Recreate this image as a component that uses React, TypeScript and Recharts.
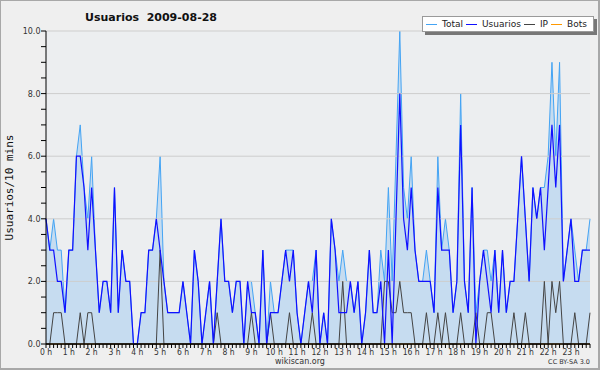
import React from 'react';
import { ComposedChart, Area, Line, XAxis, YAxis, CartesianGrid, ReferenceLine, Legend } from 'recharts';

const total = [
  4, 3, 4, 3, 3, 1, 3, 3, 6, 7,
  5, 4, 6, 3, 1, 2, 2, 1, 5, 1,
  3, 2, 2, 0, 0, 1, 1, 3, 3, 4,
  6, 2, 1, 1, 1, 1, 2, 1, 0, 3,
  2, 0, 1, 2, 0, 2, 4, 2, 2, 1,
  2, 2, 0, 2, 2, 1, 0, 3, 0, 2,
  1, 1, 2, 3, 3, 3, 1, 0, 1, 2,
  2, 3, 0, 1, 0, 4, 3, 2, 3, 2,
  2, 1, 2, 0, 1, 3, 1, 1, 3, 2,
  5, 2, 6, 10, 5, 4, 6, 3, 2, 2,
  3, 2, 1, 6, 3, 4, 3, 1, 2, 8,
  2, 1, 5, 1, 2, 3, 3, 2, 3, 1,
  3, 1, 2, 2, 4, 6, 4, 2, 5, 4,
  5, 5, 6, 9, 6, 9, 2, 3, 4, 3,
  2, 3, 3, 4,
];

const usuarios = [
  4, 3, 3, 2, 2, 1, 3, 3, 6, 6,
  5, 3, 5, 3, 1, 2, 2, 1, 5, 1,
  3, 2, 2, 0, 0, 1, 1, 3, 3, 4,
  3, 2, 1, 1, 1, 1, 2, 1, 0, 3,
  2, 0, 1, 2, 0, 2, 4, 2, 2, 1,
  2, 2, 0, 2, 1, 1, 0, 3, 0, 1,
  1, 1, 2, 3, 2, 3, 1, 0, 1, 2,
  1, 3, 0, 1, 0, 4, 3, 1, 1, 1,
  2, 1, 2, 0, 1, 3, 1, 1, 2, 0,
  3, 0, 4, 8, 4, 3, 5, 3, 2, 2,
  2, 2, 1, 5, 3, 3, 3, 1, 2, 7,
  2, 1, 5, 0, 2, 3, 2, 1, 3, 1,
  3, 1, 2, 2, 4, 6, 4, 2, 5, 4,
  5, 3, 5, 7, 5, 7, 2, 3, 4, 2,
  2, 3, 3, 3,
];

const ip = [
  0, 0, 1, 1, 1, 0, 0, 0, 0, 1,
  0, 1, 1, 0, 0, 0, 0, 0, 0, 0,
  0, 0, 0, 0, 0, 0, 0, 0, 0, 0,
  3, 0, 0, 0, 0, 0, 0, 0, 0, 0,
  0, 0, 0, 0, 0, 1, 0, 0, 0, 0,
  0, 0, 0, 0, 1, 0, 0, 0, 0, 1,
  0, 0, 0, 0, 1, 0, 0, 0, 0, 0,
  1, 0, 0, 0, 0, 0, 0, 0, 2, 0,
  0, 0, 0, 0, 0, 0, 0, 0, 0, 2,
  2, 1, 1, 2, 1, 1, 1, 0, 0, 0,
  1, 0, 0, 1, 0, 1, 0, 0, 0, 1,
  0, 0, 0, 1, 0, 0, 1, 1, 0, 0,
  0, 0, 0, 1, 0, 0, 1, 0, 0, 0,
  0, 2, 0, 2, 1, 2, 0, 0, 0, 1,
  0, 0, 0, 1,
];

const bots = [
  0, 0, 0, 0, 0, 0, 0, 0, 0, 0,
  0, 0, 0, 0, 0, 0, 0, 0, 0, 0,
  0, 0, 0, 0, 0, 0, 0, 0, 0, 0,
  0, 0, 0, 0, 0, 0, 0, 0, 0, 0,
  0, 0, 0, 0, 0, 0, 0, 0, 0, 0,
  0, 0, 0, 0, 0, 0, 0, 0, 0, 0,
  0, 0, 0, 0, 0, 0, 0, 0, 0, 0,
  0, 0, 0, 0, 0, 0, 0, 0, 0, 0,
  0, 0, 0, 0, 0, 0, 0, 0, 0, 0,
  0, 0, 0, 0, 0, 0, 0, 0, 0, 0,
  0, 0, 0, 0, 0, 0, 0, 0, 0, 0,
  0, 0, 0, 0, 0, 0, 0, 0, 0, 0,
  0, 0, 0, 0, 0, 0, 0, 0, 0, 0,
  0, 0, 0, 0, 0, 0, 0, 0, 0, 0,
  0, 0, 0, 0,
];

const hourLabels = [
  '0 h', '1 h', '2 h', '3 h', '4 h', '5 h', '6 h', '7 h', '8 h', '9 h', '10 h', '11 h',
  '12 h', '13 h', '14 h', '15 h', '16 h', '17 h', '18 h', '19 h', '20 h', '21 h', '22 h', '23 h',
];

const yTicks = [0, 0.5, 1, 1.5, 2, 2.5, 3, 3.5, 4, 4.5, 5, 5.5, 6, 6.5, 7, 7.5, 8, 8.5, 9, 9.5, 10];
const gridValues = [2, 4, 6, 8, 10];

const title = 'Usuarios  2009-08-28';
const yLabel = 'Usuarios/10 mins';
const seriesNames = ['Total', 'Usuarios', 'IP', 'Bots'];

const COLORS: Record<string, string> = {
  Total: '#44a4f4',
  Usuarios: '#1010ff',
  IP: '#444444',
  Bots: '#ff9900',
};

const data = total.map((t, i) => ({
  i,
  total: t,
  usuarios: usuarios[i],
  ip: ip[i],
  bots: bots[i],
}));
const xTicks = data.map((d) => d.i);

const W = 600;
const H = 370;
const M = { top: 31, right: 10, bottom: 25, left: 45 };
const PLOT_BOTTOM = 344;
const PLOT_LEFT = 46;
const SANS = "'DejaVu Sans Condensed', 'DejaVu Sans', sans-serif";

const XTick = (props: any) => {
  const { x, payload } = props;
  const v = payload.value as number;
  return (
    <g>
      <line x1={x} y1={PLOT_BOTTOM} x2={x} y2={PLOT_BOTTOM + 4} stroke="#000" strokeWidth={1} />
      {v % 6 === 0 ? (
        <text x={x} y={PLOT_BOTTOM + 11} textAnchor="middle" fontSize={8.5} fill="#333" fontFamily={SANS}>
          {hourLabels[v / 6]}
        </text>
      ) : null}
    </g>
  );
};

const YTick = (props: any) => {
  const { y, payload } = props;
  const v = payload.value as number;
  return (
    <g>
      <line x1={PLOT_LEFT - 5} y1={y} x2={PLOT_LEFT} y2={y} stroke="#000" strokeWidth={1} />
      {v % 2 === 0 ? (
        <text x={PLOT_LEFT - 5.5} y={y + 3} textAnchor="end" fontSize={8} fill="#333" fontFamily="'DejaVu Sans', sans-serif">
          {v.toFixed(1)}
        </text>
      ) : null}
    </g>
  );
};

const LegendBox = () => (
  <div
    style={{
      position: 'relative',
      boxSizing: 'border-box',
      width: 172,
      height: 16,
      background: '#fff',
      border: '1px solid #9a9a9a',
      boxShadow: '3px 3px 0 #777',
      display: 'flex',
      alignItems: 'center',
      fontFamily: "'DejaVu Sans', sans-serif",
      fontSize: 9,
      color: '#222',
      whiteSpace: 'nowrap',
    }}
  >
    {seriesNames.map((n) => (
      <span key={n} style={{ display: 'flex', alignItems: 'center', marginLeft: 3 }}>
        <span style={{ display: 'inline-block', width: 11, height: 1, background: COLORS[n] }} />
        <span style={{ marginLeft: 5 }}>{n}</span>
      </span>
    ))}
  </div>
);

export default function App() {
  return (
    <div
      style={{
        position: 'absolute',
        left: 0,
        top: 0,
        width: W,
        height: H,
        boxSizing: 'border-box',
        background: '#efefef',
        border: '1px solid #a8a8a8',
        borderRightWidth: 2,
        borderBottomWidth: 2,
      }}
    >
      <div style={{ position: 'absolute', left: -1, top: -1 }}>
        <ComposedChart width={W} height={H} data={data} margin={M}>
          <CartesianGrid horizontal={false} vertical={false} fill="#eceef0" />
          {gridValues.map((v) => (
            <ReferenceLine key={v} y={v} stroke="#cdcdcd" strokeWidth={1} />
          ))}
          <XAxis
            dataKey="i"
            type="number"
            domain={[0, 143]}
            ticks={xTicks}
            interval={0}
            tick={XTick}
            tickLine={false}
            axisLine={{ stroke: '#000' }}
            height={1}
          />
          <YAxis
            type="number"
            domain={[0, 10]}
            ticks={yTicks}
            interval={0}
            tick={YTick}
            tickLine={false}
            axisLine={{ stroke: '#000' }}
            width={1}
          />
          <Legend
            layout="vertical"
            align="center"
            verticalAlign="middle"
            content={LegendBox}
            wrapperStyle={{ left: 422, top: 16, width: 'auto', height: 'auto' }}
          />
          <Line
            dataKey="bots"
            name="Bots"
            type="linear"
            stroke={COLORS.Bots}
            strokeWidth={1}
            dot={false}
            isAnimationActive={false}
          />
          <Area
            dataKey="total"
            name="Total"
            type="linear"
            stroke={COLORS.Total}
            strokeWidth={1}
            fill="#c6dcf0"
            fillOpacity={1}
            dot={false}
            isAnimationActive={false}
          />
          <Line
            dataKey="ip"
            name="IP"
            type="linear"
            stroke={COLORS.IP}
            strokeWidth={1}
            dot={false}
            isAnimationActive={false}
          />
          <Line
            dataKey="usuarios"
            name="Usuarios"
            type="linear"
            stroke={COLORS.Usuarios}
            strokeWidth={1.2}
            dot={false}
            isAnimationActive={false}
          />
          <ReferenceLine y={0} stroke="#000" strokeWidth={1} />
        </ComposedChart>
      </div>
      <svg
        width={W}
        height={H}
        style={{ position: 'absolute', left: -1, top: -1, pointerEvents: 'none' }}
      >
        <text x={151} y={21} textAnchor="middle" fontSize={11} fontWeight="bold" fill="#111" fontFamily="'DejaVu Sans', sans-serif" style={{ whiteSpace: 'pre' }}>
          {title}
        </text>
        <text
          x={13}
          y={187.5}
          transform="rotate(-90 13 187.5)"
          textAnchor="middle"
          fontSize={11}
          fill="#111"
          fontFamily="'DejaVu Sans Mono', monospace"
        >
          {yLabel}
        </text>
        <text x={300} y={364} textAnchor="middle" fontSize={8} fill="#333" fontFamily="'DejaVu Sans', sans-serif">
          wikiscan.org
        </text>
        <text x={590} y={364} textAnchor="end" fontSize={6.5} fill="#333" fontFamily="'DejaVu Sans', sans-serif">
          CC BY-SA 3.0
        </text>
      </svg>
    </div>
  );
}
